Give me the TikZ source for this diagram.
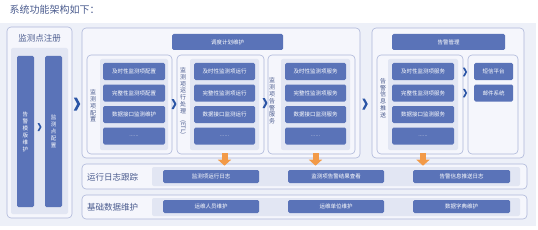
\documentclass[tikz,border=0pt]{standalone}
\usepackage{fontspec}
\setmainfont{Noto Sans CJK SC}
\usepackage{graphicx}
\usetikzlibrary{arrows.meta,positioning,calc}
\definecolor{archbg}{HTML}{EDF0F8}
\definecolor{archframe}{HTML}{AEB7D9}
\definecolor{archsoft}{HTML}{F5F6FC}
\definecolor{archpanel}{HTML}{E2E6F3}
\definecolor{archblue}{HTML}{5A73B8}
\definecolor{archink}{HTML}{4A5B8E}
\definecolor{archchev}{HTML}{2B55A6}
\definecolor{archorange}{HTML}{F29A48}

\begin{document}
\begin{tikzpicture}[x=1pt, y=-1pt,
  colbox/.style={draw=archframe, fill=archsoft, rounded corners=4pt, line width=0.6pt, inner sep=0pt},
  subpanel/.style={fill=archpanel, rounded corners=2pt, inner sep=0pt},
  itembox/.style={fill=archblue, text=white, rounded corners=1.5pt, inner sep=0pt, minimum height=17pt, font=\fontsize{5.5}{6}\selectfont},
  rowitem/.style={itembox, minimum height=13pt},
  vlabel/.style={text=archink, align=center, inner sep=0pt, font=\fontsize{6}{6.8}\selectfont},
  rowlabel/.style={text=archink, anchor=west, inner sep=0pt, font=\fontsize{8.5}{9}\selectfont},
  dots/.style={text=white!75!archblue},
  downarrow/.style={-{Triangle[width=13pt,length=6pt]}, archorange, line width=6pt},
  chev/.pic={\fill[archchev] (-2.5,-5) -- (-0.2,-5) -- (2.5,0) -- (-0.2,5) -- (-2.5,5) -- (0.2,0) -- cycle;}]
  \useasboundingbox (0,0) rectangle (538,230);
  \fill[archbg] (0,23) rectangle (536,226);
  \node[anchor=west, text=archink, font=\fontsize{10}{12}\selectfont] (title) at (6,10) {系统功能架构如下：};

  % left: registration
  \node[colbox, minimum width=65pt, minimum height=191pt] (reg) at (39.5,122.5) {};
  \node[text=archink, font=\fontsize{8.5}{9}\selectfont] (regt) at (39.5,38) {监测点注册};
  \node[subpanel, minimum width=57pt, minimum height=166pt] (regp) at (39.5,131) {};
  \node[itembox, minimum width=17pt, minimum height=151pt, align=center, font=\fontsize{5.5}{7}\selectfont] (tpl) at (25.5,131.5) {告\\警\\模\\版\\维\\护};
  \node[itembox, minimum width=17pt, minimum height=151pt, align=center, font=\fontsize{5.5}{7}\selectfont] (pnt) at (53.5,131.5) {监\\测\\点\\配\\置};
  \pic[scale=0.8] at (39.5,127) {chev};
  \pic[scale=1.3] at (77,104) {chev};

  % middle: monitoring items
  \node[colbox, minimum width=278pt, minimum height=130pt] (mon) at (221,93) {};
  \node[itembox, minimum width=111pt, minimum height=16pt] (plan) at (227.5,42) {调度计划维护};

  \node[colbox, minimum width=85pt, minimum height=99pt] (cfg) at (129.5,104.5) {};
  \node[subpanel, minimum width=68pt, minimum height=91pt] (cfgp) at (134,104.5) {};
  \node[vlabel] (cfgt) at (93,106) {监\\测\\项\\配\\置};
  \node[itembox, minimum width=62pt] (c1i1) at (134,71.5) {及时性监测项配置};
  \node[itembox, minimum width=62pt] (c1i2) at (134,93) {完整性监测项配置};
  \node[itembox, minimum width=62pt] (c1i3) at (134,114.5) {数据接口监测维护};
  \node[itembox, minimum width=62pt, dots] (c1i4) at (134,136) {......};
  \pic at (174,104) {chev};

  \node[colbox, minimum width=87pt, minimum height=99pt] (run) at (220.5,104.5) {};
  \node[subpanel, minimum width=69pt, minimum height=91pt] (runp) at (224.5,104.5) {};
  \node[vlabel] (runt) at (183,101) {监\\测\\项\\运\\行\\处\\理\\\rotatebox{-90}{(ETL)}};
  \node[itembox, minimum width=61pt] (c2i1) at (224.5,71.5) {及时性监测项运行};
  \node[itembox, minimum width=61pt] (c2i2) at (224.5,93) {完整性监测项运行};
  \node[itembox, minimum width=61pt] (c2i3) at (224.5,114.5) {数据接口监测运行};
  \node[itembox, minimum width=61pt, dots] (c2i4) at (224.5,136) {......};
  \pic at (265,103) {chev};

  \node[colbox, minimum width=87pt, minimum height=99pt] (warn) at (311.5,104.5) {};
  \node[subpanel, minimum width=69pt, minimum height=91pt] (warnp) at (315.5,104.5) {};
  \node[vlabel] (warnt) at (272,101) {监\\测\\项\\告\\警\\服\\务};
  \node[itembox, minimum width=61pt] (c3i1) at (315.5,71.5) {及时性监测项服务};
  \node[itembox, minimum width=61pt] (c3i2) at (315.5,93) {完整性监测项服务};
  \node[itembox, minimum width=61pt] (c3i3) at (315.5,114.5) {数据接口监测服务};
  \node[itembox, minimum width=61pt, dots] (c3i4) at (315.5,136) {......};
  \pic[scale=1.1] at (365,104) {chev};

  % right: alarm management
  \node[colbox, minimum width=152pt, minimum height=130pt] (alarm) at (448,93) {};
  \node[itembox, minimum width=113pt, minimum height=16pt] (mgmt) at (448.5,42) {告警管理};

  \node[colbox, minimum width=86pt, minimum height=99pt] (push) at (420,104.5) {};
  \node[subpanel, minimum width=70pt, minimum height=91pt] (pushp) at (423,104.5) {};
  \node[vlabel] (pusht) at (383,98) {告\\警\\信\\息\\推\\送};
  \node[itembox, minimum width=62pt] (c4i1) at (423,71.5) {及时性监测项服务};
  \node[itembox, minimum width=62pt] (c4i2) at (423,93) {完整性监测项服务};
  \node[itembox, minimum width=62pt] (c4i3) at (423,114.5) {数据接口监测服务};
  \node[itembox, minimum width=62pt, dots] (c4i4) at (423,136) {......};

  \node[colbox, minimum width=50pt, minimum height=99pt] (chan) at (493,104.5) {};
  \node[itembox, minimum width=39pt] (sms) at (493.5,71.5) {短信平台};
  \node[itembox, minimum width=39pt] (mail) at (493.5,93) {邮件系统};
  \pic[scale=0.85] at (465,72) {chev};
  \pic[scale=0.85] at (465,93) {chev};

  % bottom rows
  \node[colbox, minimum width=445pt, minimum height=25pt] (log) at (304.5,176.5) {};
  \node[rowlabel] (logt) at (87,177) {运行日志跟踪};
  \node[subpanel, minimum width=368pt, minimum height=19pt] (logp) at (336,176.5) {};
  \node[rowitem, minimum width=96pt] (l1) at (211,176.5) {监测项运行日志};
  \node[rowitem, minimum width=96pt] (l2) at (336,176.5) {监测项告警结果查看};
  \node[rowitem, minimum width=97pt] (l3) at (461.5,176.5) {告警信息推送日志};

  \node[colbox, minimum width=445pt, minimum height=24pt] (base) at (304.5,207) {};
  \node[rowlabel] (baset) at (87,207.5) {基础数据维护};
  \node[subpanel, minimum width=368pt, minimum height=18pt] (basep) at (336,207) {};
  \node[rowitem, minimum width=96pt] (b1) at (211,206.5) {运维人员维护};
  \node[rowitem, minimum width=96pt] (b2) at (336,206.5) {运维单位维护};
  \node[rowitem, minimum width=97pt] (b3) at (461.5,206.5) {数据字典维护};

  \draw[downarrow] ($(c2i4.south |- run.south)+(0,-1)$) -- ($(c2i4.south |- log.north)+(0,2)$);
  \draw[downarrow] ($(c3i4.south |- warn.south)+(0,-1)$) -- ($(c3i4.south |- log.north)+(0,2)$);
  \draw[downarrow] ($(c4i4.south |- push.south)+(0,-1)$) -- ($(c4i4.south |- log.north)+(0,2)$);
\end{tikzpicture}
\end{document}
